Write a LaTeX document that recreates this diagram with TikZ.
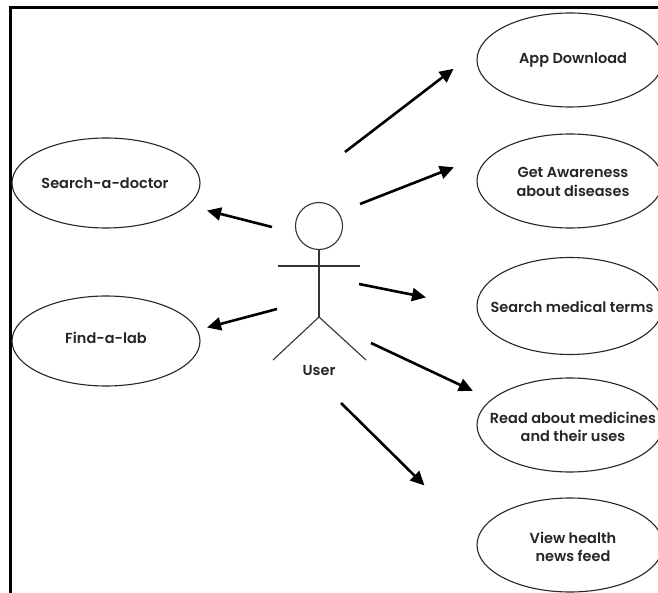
\documentclass[tikz,border=0pt]{standalone}
\usepackage{fontspec}
\setmainfont{Poppins}[UprightFont={* SemiBold}]
\usetikzlibrary{shapes.geometric,arrows.meta}

\begin{document}
\begin{tikzpicture}[x=1pt,y=-1pt,
  usecase/.style={draw=black!85,line width=1.1pt,ellipse,inner sep=0pt,
    minimum width=186pt,minimum height=94pt},
  caselabel/.style={align=center,inner sep=0pt,text=black!85,
    font=\fontsize{14.5}{18.5}\selectfont},
  assoc/.style={line width=2.6pt,-{Triangle[length=14pt,width=13pt]},
    shorten >=-2pt},
  stick/.style={draw=black!80,line width=1.1pt},
  frameline/.style={line width=3pt}]
\useasboundingbox (0,0) rectangle (658,593);
\clip (0,0) rectangle (658,593);
\fill[white] (0,0) rectangle (658,593);

% frame: top and left edges only
\draw[frameline] (10.5,593) -- (10.5,7.5) -- (658,7.5);

% use cases on the right
\node[usecase] (app)   at (570,60)  {};
\node[usecase] (aware) at (570,181) {};
\node[usecase,minimum height=97pt] (terms) at (570,306) {};
\node[usecase] (meds)  at (570,425) {};
\node[usecase] (news)  at (570,545) {};
\node[caselabel] (appT)   at (573,60)  {App Download};
\node[caselabel] (awareT) at (573,182) {Get Awareness\\about diseases};
\node[caselabel] (termsT) at (572,307) {Search medical terms};
\node[caselabel] (medsT)  at (573,427) {Read about medicines\\and their uses};
\node[caselabel] (newsT)  at (573,547) {View health\\news feed};

% use cases on the left
\node[usecase,minimum width=188pt,minimum height=90pt] (doctor) at (106,183) {};
\node[usecase,minimum width=188pt,minimum height=90pt] (lab)    at (106,341) {};
\node[caselabel] (doctorT) at (105,183) {Search-a-doctor};
\node[caselabel] (labT)    at (106,338) {Find-a-lab};

% actor
\node[stick,circle,minimum size=47pt,inner sep=0pt] (head) at (319,226) {};
\coordinate (hip) at (319,317);
\coordinate (handL) at (278,266);
\coordinate (handR) at (360,266);
\coordinate (footL) at (273,360);
\coordinate (footR) at (366,360);
\draw[stick] (head.south) -- (hip);
\draw[stick] (handL) -- (handR);
\draw[stick] (footL) -- (hip) -- (footR);
\node[caselabel] (user) at (319,371) {User};

% arrow end points
\coordinate (s1) at (345,152); \coordinate (t1) at (452,70);
\coordinate (s2) at (360,204); \coordinate (t2) at (452,168);
\coordinate (s3) at (359,284); \coordinate (t3) at (424,297);
\coordinate (s4) at (371,343); \coordinate (t4) at (471,390);
\coordinate (s5) at (341,403); \coordinate (t5) at (423,484);
\coordinate (s6) at (272,227); \coordinate (t6) at (209,211);
\coordinate (s7) at (277,309); \coordinate (t7) at (209,327);

\draw[assoc] (s1) -- (t1);
\draw[assoc] (s2) -- (t2);
\draw[assoc] (s3) -- (t3);
\draw[assoc] (s4) -- (t4);
\draw[assoc] (s5) -- (t5);
\draw[assoc] (s6) -- (t6);
\draw[assoc] (s7) -- (t7);
\end{tikzpicture}
\end{document}
